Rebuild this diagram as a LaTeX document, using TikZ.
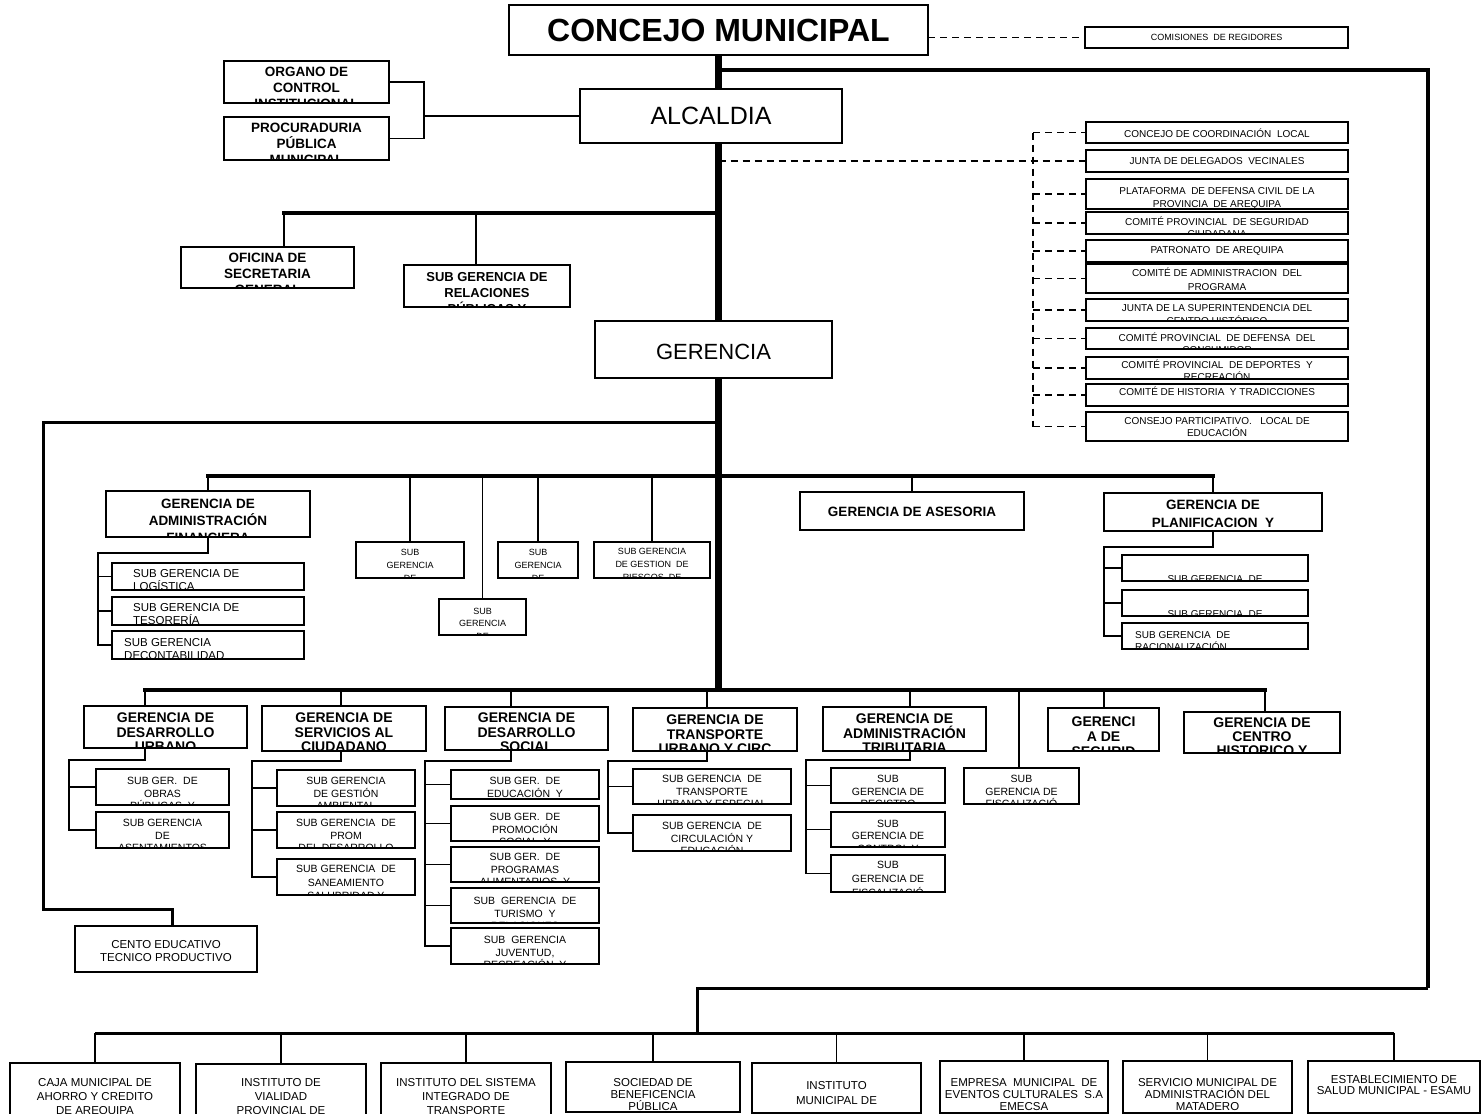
\documentclass[tikz,border=0pt]{standalone}
\usepackage{fontspec}
\setmainfont{Liberation Sans}
\usetikzlibrary{calc}
\pgfdeclarelayer{back}
\pgfsetlayers{back,main}
\newcommand\fz[2]{\fontsize{#1pt}{#2pt}\selectfont}
\tikzset{
 bxfill/.style={fill=white, inner sep=0pt, outer sep=0pt},
 bxline/.style={line width=1.8pt},
 trunk/.style={line width=7pt},
 bar/.style={line width=4.5pt, line cap=rect},
 mid/.style={line width=3pt},
 ln/.style={line width=1.8pt},
 dsh/.style={line width=1.6pt, dash pattern=on 7pt off 5pt},
}
% centered box: name,x1,y1,x2,y2,pad,font,text
\newcommand\cb[8]{%
 \node[bxfill, minimum width={(#4-#2)*1pt}, minimum height={(#5-#3)*1pt}] (#1) at ({(#2+#4)/2},{(#3+#5)/2}) {};
 \begin{scope}
  \clip ([shift={(1.5pt,-2pt)}]#1.north west) rectangle ([shift={(-1.5pt,2pt)}]#1.south east);
  \node[anchor=north, align=center, inner sep=0pt, font=#7] (#1-t) at ([yshift=-#6pt]#1.north) {#8};
 \end{scope}
 \draw[bxline] (#1.north west) rectangle (#1.south east);
}
% left aligned box: name,x1,y1,x2,y2,xpad,pad,font,text
\newcommand\cbl[9]{%
 \node[bxfill, minimum width={(#4-#2)*1pt}, minimum height={(#5-#3)*1pt}] (#1) at ({(#2+#4)/2},{(#3+#5)/2}) {};
 \begin{scope}
  \clip ([shift={(1.5pt,-2pt)}]#1.north west) rectangle ([shift={(-1.5pt,2pt)}]#1.south east);
  \node[anchor=north west, align=left, inner sep=0pt, font=#8] (#1-t) at ([shift={(#6pt,-#7pt)}]#1.north west) {#9};
 \end{scope}
 \draw[bxline] (#1.north west) rectangle (#1.south east);
}
\begin{document}
\begin{tikzpicture}[x=1pt,y=-1pt]
\useasboundingbox (0,0) rectangle (1481,1114);
\begin{pgfonlayer}{back}
\fill[white] (0,0) rectangle (1481,1114);
\end{pgfonlayer}

% ---------- top ----------
\cb{cm}{509}{5}{928}{55}{14}{\fz{32}{36}\bfseries}{CONCEJO MUNICIPAL}
\cb{com}{1085}{27}{1348}{48}{7}{\fz{9}{11}}{COMISIONES \ DE REGIDORES}
\cb{alc}{580}{89}{842}{143}{18}{\fz{25}{28}}{ALCALDIA}
\cb{oci}{224}{61}{389}{103}{6}{\fz{13.5}{16}\bfseries}{ORGANO DE\\CONTROL\\INSTITUCIONAL}
\cb{ppm}{224}{117}{389}{160}{6}{\fz{13.5}{16}\bfseries}{PROCURADURIA\\PÚBLICA\\MUNICIPAL}
\cb{osg}{181}{247}{354}{288}{6}{\fz{13.5}{16}\bfseries}{OFICINA DE\\SECRETARIA\\GENERAL}
\cb{srp}{404}{265}{570}{307}{7}{\fz{13}{16}\bfseries}{SUB GERENCIA DE\\RELACIONES\\PÚBLICAS Y}
\cb{ger}{595}{321}{832}{378}{23}{\fz{22}{26}}{GERENCIA}

% ---------- right column ----------
\cb{r1}{1086}{122}{1348}{143}{7}{\fz{10}{12.5}}{CONCEJO DE COORDINACIÓN \ LOCAL}
\cb{r2}{1086}{150}{1348}{172}{7}{\fz{10}{12.5}}{JUNTA DE DELEGADOS \ VECINALES}
\cb{r3}{1086}{179}{1348}{209}{8.5}{\fz{10}{12.5}}{PLATAFORMA \ DE DEFENSA CIVIL DE LA\\PROVINCIA \ DE AREQUIPA}
\cb{r4}{1086}{212}{1348}{234}{4.5}{\fz{10}{12.5}}{COMITÉ PROVINCIAL \ DE SEGURIDAD\\CIUDADANA}
\cb{r5}{1086}{240}{1348}{262}{6.5}{\fz{10}{12.5}}{PATRONATO \ DE AREQUIPA}
\cb{r6}{1086}{264}{1348}{293}{3.5}{\fz{10}{14.5}}{COMITÉ DE ADMINISTRACION \ DEL\\PROGRAMA}
\cb{r7}{1086}{299}{1348}{321}{5.6}{\fz{10}{12.5}}{JUNTA DE LA SUPERINTENDENCIA DEL\\CENTRO HISTÓRICO}
\cb{r8}{1086}{328}{1348}{349}{4.3}{\fz{10}{12.5}}{COMITÉ PROVINCIAL \ DE DEFENSA \ DEL\\CONSUMIDOR}
\cb{r9}{1086}{357}{1348}{379}{2.5}{\fz{10}{12.5}}{COMITÉ PROVINCIAL \ DE DEPORTES \ Y\\RECREACIÓN}
\cb{r10}{1086}{384}{1348}{406}{3}{\fz{10}{12.5}}{COMITÉ DE HISTORIA \ Y TRADICCIONES}
\cb{r11}{1086}{412}{1348}{441}{5.5}{\fz{10}{11.5}}{CONSEJO PARTICIPATIVO. \ \ LOCAL DE\\EDUCACIÓN}

% ---------- left loop box ----------
\cb{cet}{75}{926}{257}{972}{14}{\fz{11.5}{13.5}}{CENTO EDUCATIVO\\TECNICO PRODUCTIVO}

% ---------- row 2 ----------
\cb{gaf}{106}{491}{310}{537}{8}{\fz{13.5}{17}\bfseries}{GERENCIA DE\\ADMINISTRACIÓN\\FINANCIERA}
\cbl{sgl}{112}{563}{304}{590}{21}{6}{\fz{11.5}{13.5}}{SUB GERENCIA DE\\LOGÍSTICA}
\cbl{sgt}{112}{597}{304}{625}{21}{6}{\fz{11.5}{13.5}}{SUB GERENCIA DE\\TESORERÍA}
\cbl{sgc}{112}{631}{304}{659}{12}{7}{\fz{11.5}{13.5}}{SUB GERENCIA\\DECONTABILIDAD}
\cb{sA}{356}{542}{464}{578}{7}{\fz{9}{13}}{SUB\\GERENCIA\\DE}
\cb{sB}{439}{599}{526}{635}{9}{\fz{9}{12.5}}{SUB\\GERENCIA\\DE}
\cb{sC}{498}{542}{578}{578}{7}{\fz{9}{13}}{SUB\\GERENCIA\\DE}
\cb{sD}{594}{542}{710}{578}{6}{\fz{9}{13}}{SUB GERENCIA\\DE GESTION \ DE\\RIESGOS \ DE}
\cb{ase}{800}{492}{1024}{530}{15}{\fz{13.5}{16}\bfseries}{GERENCIA DE ASESORIA}
\cb{pla}{1104}{493}{1322}{531}{7}{\fz{13.5}{18}\bfseries}{GERENCIA DE\\PLANIFICACION \ Y\\PRESUPUESTO}
\cb{pp1}{1122}{555}{1308}{581}{20}{\fz{10}{12}}{SUB GERENCIA \ DE}
\cb{pp2}{1122}{590}{1308}{616}{20}{\fz{10}{12}}{SUB GERENCIA \ DE}
\cbl{pp3}{1122}{623}{1308}{649}{13}{8.5}{\fz{10}{12}}{SUB GERENCIA \ DE\\RACIONALIZACIÓN}

% ---------- row 3 ----------
\cb{gdu}{84}{706}{247}{748}{7}{\fz{14}{14.5}\bfseries}{GERENCIA DE\\DESARROLLO\\URBANO}
\cb{gsc}{262}{706}{426}{751}{7}{\fz{14}{14.5}\bfseries}{GERENCIA DE\\SERVICIOS AL\\CIUDADANO}
\cb{gds}{445}{707}{608}{750}{6}{\fz{14}{14.5}\bfseries}{GERENCIA DE\\DESARROLLO\\SOCIAL}
\cb{gtu}{633}{708}{797}{751}{7}{\fz{14}{14.5}\bfseries}{GERENCIA DE\\TRANSPORTE\\URBANO Y CIRC}
\cb{gat}{823}{707}{986}{751}{7}{\fz{14}{14.5}\bfseries}{GERENCIA DE\\ADMINISTRACIÓN\\TRIBUTARIA}
\cb{gsg}{1048}{708}{1159}{751}{9}{\fz{14}{15}\bfseries}{GERENCI\\A DE\\SEGURID}
\cb{gch}{1184}{712}{1340}{753}{6}{\fz{14}{14}\bfseries}{GERENCIA DE\\CENTRO\\HISTORICO Y}

\cb{u1}{96}{769}{229}{805}{8}{\fz{10.5}{12.5}}{SUB GER. \ DE\\OBRAS\\PÚBLICAS \ Y}
\cb{u2}{96}{812}{229}{848}{7}{\fz{10.5}{12.5}}{SUB GERENCIA\\DE\\ASENTAMIENTOS}
\cb{c1}{277}{770}{415}{806}{7}{\fz{10.5}{12.5}}{SUB GERENCIA\\DE GESTIÓN\\AMBIENTAL}
\cb{c2}{277}{812}{415}{848}{7}{\fz{10.5}{12.5}}{SUB GERENCIA \ DE\\PROM\\DEL DESARROLLO}
\cb{c3}{277}{859}{415}{895}{6}{\fz{10.5}{13.5}}{SUB GERENCIA \ DE\\SANEAMIENTO\\SALUBRIDAD Y}
\cb{s1}{451}{770}{599}{799}{7}{\fz{10.5}{12.5}}{SUB GER. \ DE\\EDUCACIÓN \ Y}
\cb{s2}{451}{806}{599}{841}{7}{\fz{10.5}{12.5}}{SUB GER. \ DE\\PROMOCIÓN\\SOCIAL \ Y}
\cb{s3}{451}{847}{599}{882}{6}{\fz{10.5}{12.5}}{SUB GER. \ DE\\PROGRAMAS\\ALIMENTARIOS \ Y}
\cb{s4}{451}{888}{599}{923}{9}{\fz{10.5}{12.5}}{SUB \ GERENCIA \ DE\\TURISMO \ Y\\RELACIONES}
\cb{s5}{451}{928}{599}{964}{8}{\fz{10.5}{12.5}}{SUB \ GERENCIA\\JUVENTUD,\\RECREACIÓN \ Y}
\cb{t1}{633}{769}{791}{804}{6}{\fz{10.5}{12.5}}{SUB GERENCIA \ DE\\TRANSPORTE\\URBANO Y ESPECIAL}
\cb{t2}{633}{815}{791}{851}{7}{\fz{10.5}{12.5}}{SUB GERENCIA \ DE\\CIRCULACIÓN Y\\EDUCACIÓN}
\cb{a1}{831}{768}{945}{803}{7}{\fz{10.5}{12.5}}{SUB\\GERENCIA DE\\REGISTRO}
\cb{a2}{831}{812}{945}{847}{7.5}{\fz{10.5}{12.5}}{SUB\\GERENCIA DE\\CONTROL Y}
\cb{a3}{831}{855}{945}{892}{6}{\fz{10.5}{14}}{SUB\\GERENCIA DE\\FISCALIZACIÓ}
\cb{fis}{964}{768}{1079}{804}{7}{\fz{10.5}{12.5}}{SUB\\GERENCIA DE\\FISCALIZACIÓ}

% ---------- bottom row ----------
\cb{b1}{10}{1063}{180}{1125}{15}{\fz{11.5}{14}}{CAJA MUNICIPAL DE\\AHORRO Y CREDITO\\DE AREQUIPA}
\cb{b2}{196}{1064}{366}{1125}{14}{\fz{11.5}{14}}{INSTITUTO DE\\VIALIDAD\\PROVINCIAL DE}
\cb{b3}{381}{1063}{551}{1125}{15}{\fz{11.5}{14}}{INSTITUTO DEL SISTEMA\\INTEGRADO DE\\TRANSPORTE}
\cb{b4}{566}{1062}{740}{1112}{16}{\fz{11.5}{12}}{SOCIEDAD DE\\BENEFICENCIA\\PÚBLICA}
\cb{b5}{752}{1063}{921}{1113}{18}{\fz{11.5}{15}}{INSTITUTO\\MUNICIPAL DE}
\cb{b6}{940}{1061}{1108}{1113}{17}{\fz{11.5}{12}}{EMPRESA \ MUNICIPAL \ DE\\EVENTOS CULTURALES \ S.A\\EMECSA}
\cb{b7}{1123}{1061}{1292}{1113}{17}{\fz{11.5}{12}}{SERVICIO MUNICIPAL DE\\ADMINISTRACIÓN DEL\\MATADERO}
\cb{b8}{1308}{1061}{1480}{1113}{14}{\fz{11.5}{11}}{ESTABLECIMIENTO DE\\SALUD MUNICIPAL - ESAMU}

% ---------- connectors ----------
\begin{pgfonlayer}{back}
% trunk
\coordinate (T3) at (718.5,690);
\draw[trunk] (cm.south) -- (T3);
% dashed to comisiones
\draw[dsh] (cm.east |- com.west) -- (com.west);
% top-right loop to bottom row
\coordinate (R0) at (718.5,70);
\coordinate (R2) at (1428,988);
\coordinate (R4) at (697,1033);
\draw[line width=4pt] (R0) -| (R2);
\draw[mid] (R2) -| (R4);
% organo / procuraduria bracket
\coordinate (K) at (424,116);
\draw[ln] (oci.east) -| (K) |- (ppm.east);
\draw[ln] (K) -- (alc.west);
% row 1
\coordinate (A0) at (284,213);
\coordinate (A1) at (718.5,213);
\coordinate (A2) at (476,213);
\draw[bar] (A0) -- (A1);
\draw[ln] (A0) -- (A0 |- osg.north);
\draw[ln] (A2) -- (A2 |- srp.north);
% right dashed tree
\coordinate (D0) at (718.5,161);
\coordinate (Dt) at (1033,132.5);
\coordinate (Db) at (1033,426.5);
\draw[dsh] (D0) -- (r2.west);
\draw[dsh] (Dt) -- (Db);
\foreach \r in {r1,r3,r4,r5,r6,r7,r8,r9,r10,r11}{\draw[dsh] (Dt |- \r.west) -- (\r.west);}
% left loop
\coordinate (L0) at (718.5,422);
\coordinate (L1) at (43,422);
\coordinate (L2) at (43,909);
\coordinate (L3) at (172,909);
\draw[mid] (L0) -- (L1) -- (L2) -- (L3) -- (L3 |- cet.north);
% row 2
\coordinate (M0) at (208,476);
\coordinate (M1) at (1213,476);
\draw[bar] (M0) -- (M1);
\draw[ln] (M0) -- (gaf.north);
\foreach \b in {sA,sB,sC,sD,ase}{\draw[ln] (\b.north |- M0) -- (\b.north);}
\draw[ln] (M1) -- (pla.north);
\coordinate (g1) at (98,553);
\draw[ln] (gaf.south) |- (g1) -- (g1 |- sgc.west) -- (sgc.west);
\draw[ln] (g1 |- sgl.west) -- (sgl.west);
\draw[ln] (g1 |- sgt.west) -- (sgt.west);
\coordinate (p1) at (1104,547);
\draw[ln] (pla.south) |- (p1) -- (p1 |- pp3.west) -- (pp3.west);
\draw[ln] (p1 |- pp1.west) -- (pp1.west);
\draw[ln] (p1 |- pp2.west) -- (pp2.west);
% row 3
\coordinate (N0) at (145,690);
\coordinate (N1) at (1265,690);
\draw[bar] (N0) -- (N1);
\coordinate (n2) at (341,690);
\coordinate (n3) at (511,690);
\coordinate (n4) at (707,690);
\coordinate (n5) at (910,690);
\coordinate (n6) at (1019,690);
\coordinate (n7) at (1104,690);
\draw[ln] (N0) -- (N0 |- gdu.north);
\draw[ln] (n2) -- (n2 |- gsc.north);
\draw[ln] (n3) -- (n3 |- gds.north);
\draw[ln] (n4) -- (n4 |- gtu.north);
\draw[ln] (n5) -- (n5 |- gat.north);
\draw[ln] (n6) -- (n6 |- fis.north);
\draw[ln] (n7) -- (n7 |- gsg.north);
\draw[ln] (N1) -- (N1 |- gch.north);
% brackets row 3
\coordinate (u0) at (69,760);
\draw[ln] (N0 |- gdu.south) |- (u0) -- (u0 |- u2.west) -- (u2.west);
\draw[ln] (u0 |- u1.west) -- (u1.west);
\coordinate (c0) at (252,761);
\draw[ln] (n2 |- gsc.south) |- (c0) -- (c0 |- c3.west) -- (c3.west);
\foreach \b in {c1,c2}{\draw[ln] (c0 |- \b.west) -- (\b.west);}
\coordinate (s0) at (425,761);
\draw[ln] (n3 |- gds.south) |- (s0) -- (s0 |- s5.west) -- (s5.west);
\foreach \b in {s1,s2,s3,s4}{\draw[ln] (s0 |- \b.west) -- (\b.west);}
\coordinate (t0) at (608,761);
\draw[ln] (n4 |- gtu.south) |- (t0) -- (t0 |- t2.west) -- (t2.west);
\draw[ln] (t0 |- t1.west) -- (t1.west);
\coordinate (a0) at (806,760);
\draw[ln] (n5 |- gat.south) |- (a0) -- (a0 |- a3.west) -- (a3.west);
\foreach \b in {a1,a2}{\draw[ln] (a0 |- \b.west) -- (\b.west);}
% bottom bar
\coordinate (B0) at (95,1033);
\coordinate (B1) at (1394,1033);
\draw[mid] (B0) -- (B1);
\foreach \b in {b1,b2,b3,b4,b5,b6,b7,b8}{\draw[ln] (\b.north |- B0) -- (\b.north);}
\end{pgfonlayer}
\end{tikzpicture}
\end{document}
